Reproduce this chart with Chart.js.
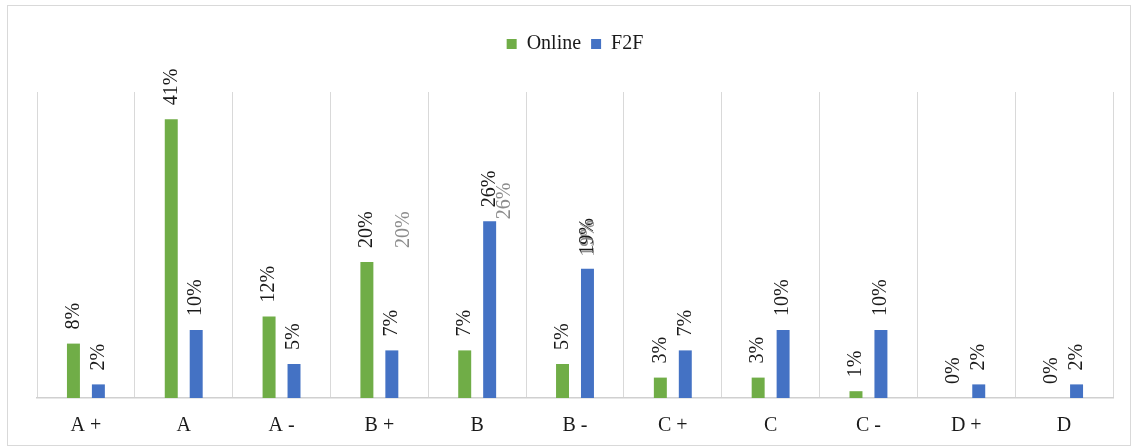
<!DOCTYPE html>
<html>
<head>
<meta charset="utf-8">
<script src="https://cdn.jsdelivr.net/npm/chart.js@4/dist/chart.umd.min.js"></script>
<style>
  html, body { margin: 0; padding: 0; background: #fff; }
  #wrap { width: 1134px; height: 447px; }
</style>
</head>
<body>
<div id="wrap"><canvas id="myChart" width="1134" height="447"></canvas></div>
<script>
// grades and share of students (%)
let grades = ['A+', 'A', 'A-', 'B+', 'B', 'B-', 'C+', 'C', 'C-', 'D+', 'D'];
let online = [8, 41, 12, 20, 7, 5, 3, 3, 1, 0, 0];
let f2f = [2, 10, 5, 7, 26, 19, 7, 10, 10, 2, 2];
// stray grey labels left over in the original picture
let ghost = [null, null, null, 20, 26, 19, null, null, null, null, null];

let serif = "'Liberation Serif', 'Times New Roman', serif";

// draws the rotated % labels above each bar
const barLabels = {
    id: 'barLabels',
    afterDatasetsDraw(chart) {
        let ctx = chart.ctx;
        ctx.save();
        ctx.font = '20px ' + serif;
        ctx.textAlign = 'left';
        ctx.textBaseline = 'middle';
        chart.data.datasets.forEach((ds, di) => {
            let meta = chart.getDatasetMeta(di);
            meta.data.forEach((bar, i) => {
                ctx.save();
                ctx.fillStyle = '#1a1a1a';
                ctx.translate(bar.x, bar.y - 14);
                ctx.rotate(-Math.PI / 2);
                ctx.fillText(ds.data[i] + '%', 0, 0);
                ctx.restore();
            });
        });
        // grey leftovers, drawn next to the F2F bars
        let nudge = {3: [12, 0], 4: [15, 12], 5: [1, 2]};
        let meta = chart.getDatasetMeta(1);
        let y = chart.scales.y;
        ghost.forEach((v, i) => {
            if (v === null) return;
            let n = nudge[i] || [12, 0];
            ctx.save();
            ctx.fillStyle = 'rgba(120,120,120,0.85)';
            ctx.translate(meta.data[i].x + n[0], y.getPixelForValue(v) - 14 + n[1]);
            ctx.rotate(-Math.PI / 2);
            ctx.fillText(v + '%', 0, 0);
            ctx.restore();
        });
        ctx.restore();
    }
};

// light frame round the whole chart + extra room under the legend
const frame = {
    id: 'frame',
    afterInit(chart) {
        let lg = chart.legend;
        if (lg && !lg._patched) {
            let fit = lg.fit;
            lg.fit = function () {
                fit.call(this);
                this.height += 28;
            };
            lg._patched = true;
        }
    },
    beforeDraw(chart) {
        let ctx = chart.ctx;
        ctx.save();
        ctx.strokeStyle = '#d9d9d9';
        ctx.lineWidth = 1;
        ctx.strokeRect(7.5, 5.5, 1123, 440);
        ctx.restore();
    }
};

var ctx = document.getElementById('myChart').getContext('2d');
var myChart = new Chart(ctx, {
    type: 'bar',
    data: {
        labels: grades,
        datasets: [{
            label: 'Online',
            data: online,
            backgroundColor: '#70AD47',
            categoryPercentage: 0.51,
            barPercentage: 0.52
        }, {
            label: 'F2F',
            data: f2f,
            backgroundColor: '#4472C4',
            categoryPercentage: 0.51,
            barPercentage: 0.52
        }]
    },
    options: {
        responsive: false,
        animation: false,
        layout: {
            padding: { top: 24, left: 37, right: 21, bottom: -7 }
        },
        plugins: {
            legend: {
                position: 'top',
                labels: {
                    boxWidth: 10,
                    boxHeight: 10,
                    padding: 10,
                    color: '#1a1a1a',
                    font: { family: serif, size: 20 }
                }
            },
            tooltip: { enabled: false }
        },
        scales: {
            y: {
                display: false,
                min: 0,
                max: 45
            },
            x: {
                grid: {
                    color: '#d9d9d9',
                    drawTicks: false
                },
                border: { color: '#d0d0d0', width: 1.5 },
                ticks: {
                    padding: 16,
                    color: '#1a1a1a',
                    font: { family: serif, size: 20 },
                    callback: function (v) {
                        return this.getLabelForValue(v).replace(/([+-])/, ' $1');
                    }
                }
            }
        }
    },
    plugins: [barLabels, frame]
});
</script>
</body>
</html>
